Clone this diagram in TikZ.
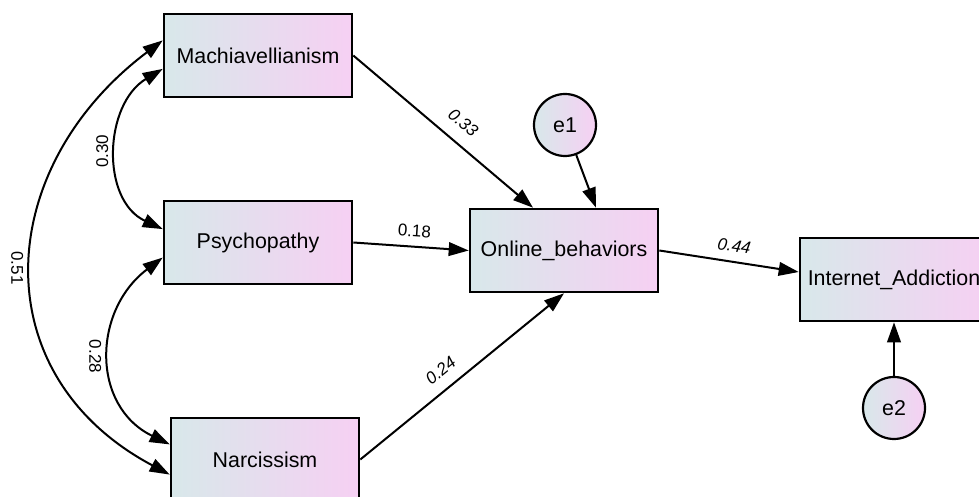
\documentclass[tikz,border=0pt]{standalone}
\usepackage{fontspec}
\setmainfont{Liberation Sans}
\usetikzlibrary{arrows.meta}
\definecolor{shadeleft}{HTML}{D8E8EA}
\definecolor{shaderight}{HTML}{F6D0F3}
\begin{document}
\begin{tikzpicture}[x=0.5pt, y=0.5pt, >={Triangle[length=10pt,width=6.8pt]},
  var/.style={draw, line width=1.3pt, rectangle, minimum width=94pt, minimum height=41.5pt, inner sep=0pt, left color=shadeleft, right color=shaderight, font=\fontsize{10.7}{12}\selectfont},
  err/.style={draw, line width=1.1pt, circle, minimum size=31pt, inner sep=0pt, left color=shadeleft, right color=shaderight, font=\fontsize{10.7}{12}\selectfont},
  effect/.style={->, line width=1pt},
  cov/.style={<->, line width=1pt},
  coef/.style={font=\fontsize{8.5}{9}\selectfont, inner sep=1.5pt},
  covcoef/.style={coef, inner sep=4pt}]
  \useasboundingbox (0,0) rectangle (979,497);

  \node[var] (mach) at (258,441.5) {Machiavellianism};
  \node[var] (psych) at (258,254.5) {Psychopathy};
  \node[var] (narc) at (265,37.5) {Narcissism};
  \node[var] (online) at (564,246.5) {Online\_behaviors};
  \node[var] (ia) at (894,217.5) {Internet\_Addiction};
  \node[err] (e1) at (565,372) {e1};
  \node[err] (e2) at (894,89) {e2};

  \draw[effect] (mach.east) -- node[coef, sloped, above=5pt, pos=0.54] {\textit{0.33}} ([xshift=-15.5pt]online.north);
  \draw[effect] (e1) -- ([xshift=16pt]online.north);
  \draw[effect] (psych.east) -- node[coef, sloped, above=3pt, pos=0.52] {0.18} (online.west);
  \draw[effect] (narc.east) -- node[coef, sloped, above=4pt, pos=0.45] {\textit{0.24}} (online.south);
  \draw[effect] (online.east) -- node[coef, sloped, above=3pt, pos=0.52] {\textit{0.44}} ([yshift=3.75pt]ia.west);
  \draw[effect] (e2) -- (ia.south);

  \draw[cov] (mach.171) to[out=217, in=152, looseness=1.25] node[covcoef, rotate=-90, anchor=north, pos=0.5] {0.51} (narc.189);
  \draw[cov] (mach.188) to[out=211, in=155, looseness=1.1] node[covcoef, rotate=90, anchor=south, pos=0.5] {0.30} (psych.172);
  \draw[cov] (psych.189) to[out=217, in=154, looseness=1.2] node[covcoef, rotate=-90, anchor=north, pos=0.5] {0.28} (narc.171);
\end{tikzpicture}
\end{document}
